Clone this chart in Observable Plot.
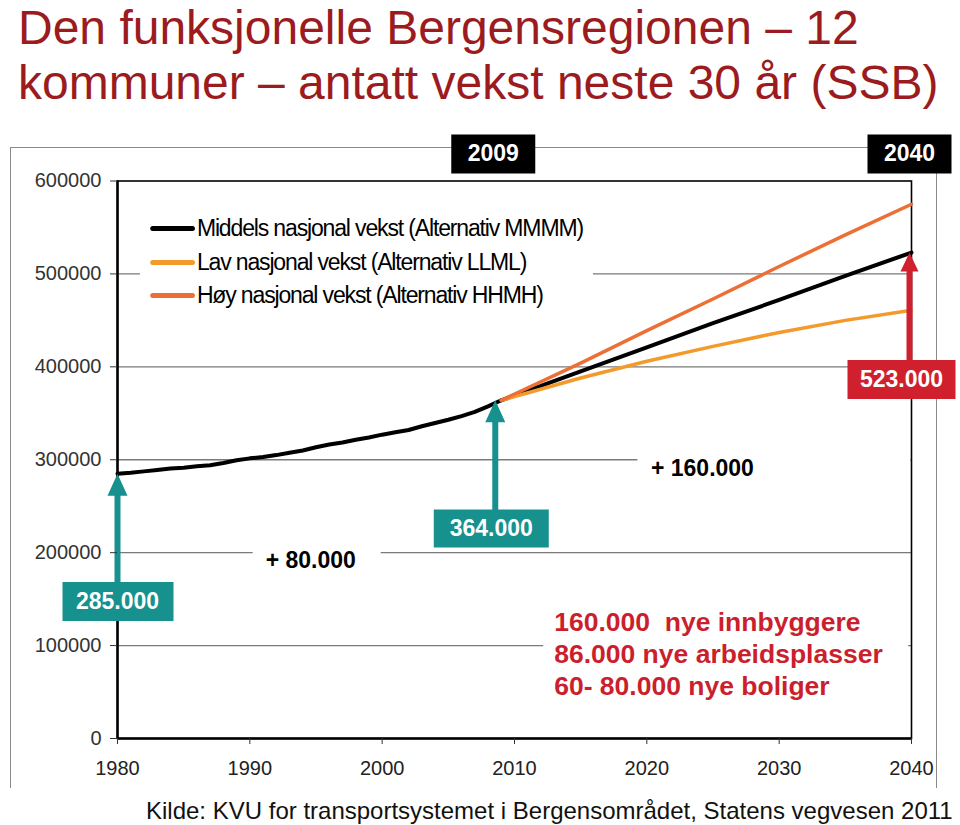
<!DOCTYPE html>
<html><head><meta charset="utf-8">
<script src="https://cdn.jsdelivr.net/npm/d3@7"></script>
<script src="https://cdn.jsdelivr.net/npm/@observablehq/plot@0.6"></script>
<style>
html,body{margin:0;padding:0;width:960px;height:825px;overflow:hidden;background:#fff;font-family:"Liberation Sans",Arial,sans-serif;}
#page{position:relative;width:960px;height:825px;}
.title{position:absolute;left:18px;font-size:48px;line-height:normal;color:#9B1B1E;white-space:nowrap;}
#frame{position:absolute;left:10px;top:147px;width:925px;height:640px;border:1.5px solid #8a8a8a;border-bottom:none;}
#chart{position:absolute;left:0;top:110px;}
#caption{position:absolute;left:146px;top:797px;font-size:24px;line-height:normal;color:#111;white-space:nowrap;}
svg text{white-space:pre;}
</style></head>
<body>
<div id="page">
  <div class="title" style="top:0px">Den funksjonelle Bergensregionen – 12</div>
  <div class="title" style="top:55px">kommuner – antatt vekst neste 30 år (SSB)</div>
  <div id="frame"></div>
  <div id="chart"></div>
  <div id="caption">Kilde: KVU for transportsystemet i Bergensområdet, Statens vegvesen 2011</div>
</div>
<script>
// ---- data ----
const histYears = [1980,1981,1982,1983,1984,1985,1986,1987,1988,1989,1990,1991,1992,1993,1994,1995,1996,1997,1998,1999,2000,2001,2002,2003,2004,2005,2006,2007,2008,2009];
const histPop = [285000,286000,287500,289000,290500,291500,293000,294000,296500,299500,301500,303000,305000,307500,310000,313500,316500,318500,321500,324000,327000,329500,332000,336000,339500,343000,347000,351500,357500,364000];
const projYears = [2009,2015,2020,2025,2030,2035,2040];
const middels = [364000,395000,421000,447000,472000,498000,523000];
const lav = [364000,388000,406000,422000,437000,450000,461000];
const hoy = [364000,404000,439000,473000,508000,542000,575000];
const seriesNames = ["Middels nasjonal vekst (Alternativ MMMM)","Lav nasjonal vekst (Alternativ LLML)","Høy nasjonal vekst (Alternativ HHMH)"];
const xTicks = [1980,1990,2000,2010,2020,2030,2040];
const yTicks = [0,100000,200000,300000,400000,500000,600000];
const gridValues = [100000,200000,300000,400000,500000];
const markerYears = ["2009","2040"];
const valueLabels = ["285.000","364.000","523.000"];
const growthLabels = ["+ 80.000","+ 160.000"];
const factLines = ["160.000  nye innbyggere","86.000 nye arbeidsplasser","60- 80.000 nye boliger"];

// ---- styles ----
const colors = ["#000000","#F49A2C","#EC6F35"];
const teal = "#16918E", red = "#D0202E", textRed = "#CC1F2D";

const hist = histYears.map((year,i)=>({year, value: histPop[i]}));
const proj = [middels, lav, hoy].map(arr => projYears.map((year,i)=>({year, value: arr[i]})));

// annotation placements (data coordinates)
const legendY = [549000, 512400, 476900];
const legendItems = seriesNames.map((name,i)=>({name, y: legendY[i], color: colors[i]}));

const headShape = (w,h) => ({draw(ctx){ ctx.moveTo(0,0); ctx.lineTo(-w/2,h); ctx.lineTo(w/2,h); ctx.closePath(); }});
const boxShape = (l,t,w,h) => ({draw(ctx){ ctx.rect(l,t,w,h); }});

const arrows = [
  {x: 1980, tip: histPop[0], base: 147400, dx: 0, color: teal, w: 20, h: 22},
  {x: 2009, tip: histPop[histPop.length-1], base: 226000, dx: -6, color: teal, w: 20, h: 22},
  {x: 2040, tip: middels[middels.length-1], base: 386400, dx: -2, color: red, w: 18, h: 19}
];

// label anchors: text, position, offsets, box (left, top, width, height relative to anchor), colours
const boxed = [
  {text: valueLabels[0], x: 1980, y: 147400, dx: 0, dy: 0, box: [-55,-19.5,111,39], bg: teal, fg: "#fff"},
  {text: valueLabels[1], x: 2009, y: 226000, dx: -10, dy: 0, box: [-57.5,-19,115,38], bg: teal, fg: "#fff"},
  {text: valueLabels[2], x: 2040, y: 386400, dx: -10, dy: 0, box: [-54,-19.5,108,39], bg: red, fg: "#fff"},
  {text: markerYears[0], x: 2009, y: 600000, dx: -8, dy: -27, box: [-42,-19.5,84,39], bg: "#000", fg: "#fff"},
  {text: markerYears[1], x: 2040, y: 600000, dx: -2, dy: -27, box: [-42,-19.5,84,39], bg: "#000", fg: "#fff"}
];
const plainLabels = [
  {text: growthLabels[0], x: 1994.6, y: 191600, box: [-58,-14,128,28]},
  {text: growthLabels[1], x: 2024.2, y: 290600, box: [-65,-14,273,28]}
];
const factsAnchor = {x: 2013.0, y: 92500, box: [-11,-49,365,99]};
const legendAnchor = {x: 1986.0, y: legendY[1], box: [-57,-54,453,104]};

const font = "'Liberation Sans', Arial, sans-serif";
const bg = (d, fill) => Plot.dot([d], {x: "x", y: "y", dx: d.dx || 0, dy: d.dy || 0, r: 1, symbol: boxShape(...d.box), fill, stroke: "none"});

const chart = Plot.plot({
  width: 960, height: 685,
  marginTop: 70.5, marginBottom: 57, marginLeft: 117, marginRight: 49,
  style: {fontFamily: font, background: "transparent", overflow: "visible"},
  x: {domain: [1980, 2040]},
  y: {domain: [0, 600000]},
  marks: [
    Plot.ruleY(gridValues, {stroke: "#7a7a7a", strokeWidth: 1.3}),
    // white backgrounds
    bg(legendAnchor, "#fff"),
    ...plainLabels.map(d => bg(d, "#fff")),
    bg(factsAnchor, "#fff"),
    // legend
    Plot.ruleY(legendItems, {y: "y", x1: 1982.7, x2: 1985.7, stroke: "color", strokeWidth: 5, strokeLinecap: "round"}),
    Plot.text(legendItems, {x: 1986.0, y: "y", text: "name", textAnchor: "start", fontSize: 23, fill: "#000"}),
    // growth labels
    Plot.text(plainLabels, {x: "x", y: "y", text: "text", fontSize: 23, fontWeight: "bold", fill: "#000"}),
    Plot.text([factLines.join("\n")], {x: factsAnchor.x, y: factsAnchor.y, text: d=>d, textAnchor: "start", fontSize: 26.5, lineHeight: 1.21, fontWeight: "bold", fill: textRed}),
    // frame & axis lines
    Plot.frame({stroke: "#000", strokeWidth: 1.6}),
    Plot.ruleX([1980], {stroke: "#000", strokeWidth: 2.5}),
    Plot.ruleY([0], {stroke: "#000", strokeWidth: 2.5}),
    // data
    Plot.line(hist, {x: "year", y: "value", stroke: colors[0], strokeWidth: 4, strokeLinejoin: "round"}),
    Plot.line(proj[0], {x: "year", y: "value", stroke: colors[0], strokeWidth: 4, strokeLinejoin: "round"}),
    Plot.line(proj[1], {x: "year", y: "value", stroke: colors[1], strokeWidth: 3.5, strokeLinejoin: "round"}),
    Plot.line(proj[2], {x: "year", y: "value", stroke: colors[2], strokeWidth: 3.5, strokeLinejoin: "round"}),
    // arrows
    ...arrows.map(a => Plot.ruleX([a], {x: "x", y1: "base", y2: d => d.tip - (d.h*0.55)/0.0009292, dx: a.dx, stroke: a.color, strokeWidth: 6})),
    ...arrows.map(a => Plot.dot([a], {x: "x", y: "tip", dx: a.dx, symbol: headShape(a.w, a.h), r: 5, fill: a.color, stroke: "none"})),
    // coloured boxes + texts
    ...boxed.map(d => bg(d, d.bg)),
    ...boxed.map(d => Plot.text([d], {x: "x", y: "y", dx: d.dx, dy: d.dy, text: "text", fontSize: 23, fontWeight: "bold", fill: d.fg})),
    // axes
    Plot.axisY(yTicks, {tickFormat: d => String(d), tickSize: 7, tickPadding: 9, fontSize: 20, fill: "#333", stroke: "#333", label: null}),
    Plot.axisX(xTicks, {tickFormat: "d", tickSize: 6, tickPadding: 16, fontSize: 20, fill: "#222", stroke: "#333", label: null})
  ]
});

document.getElementById("chart").append(chart);
chart.querySelectorAll("text").forEach(t => {
  if (seriesNames.includes(t.textContent)) t.style.letterSpacing = "-1.15px";
});
</script>
</body></html>
